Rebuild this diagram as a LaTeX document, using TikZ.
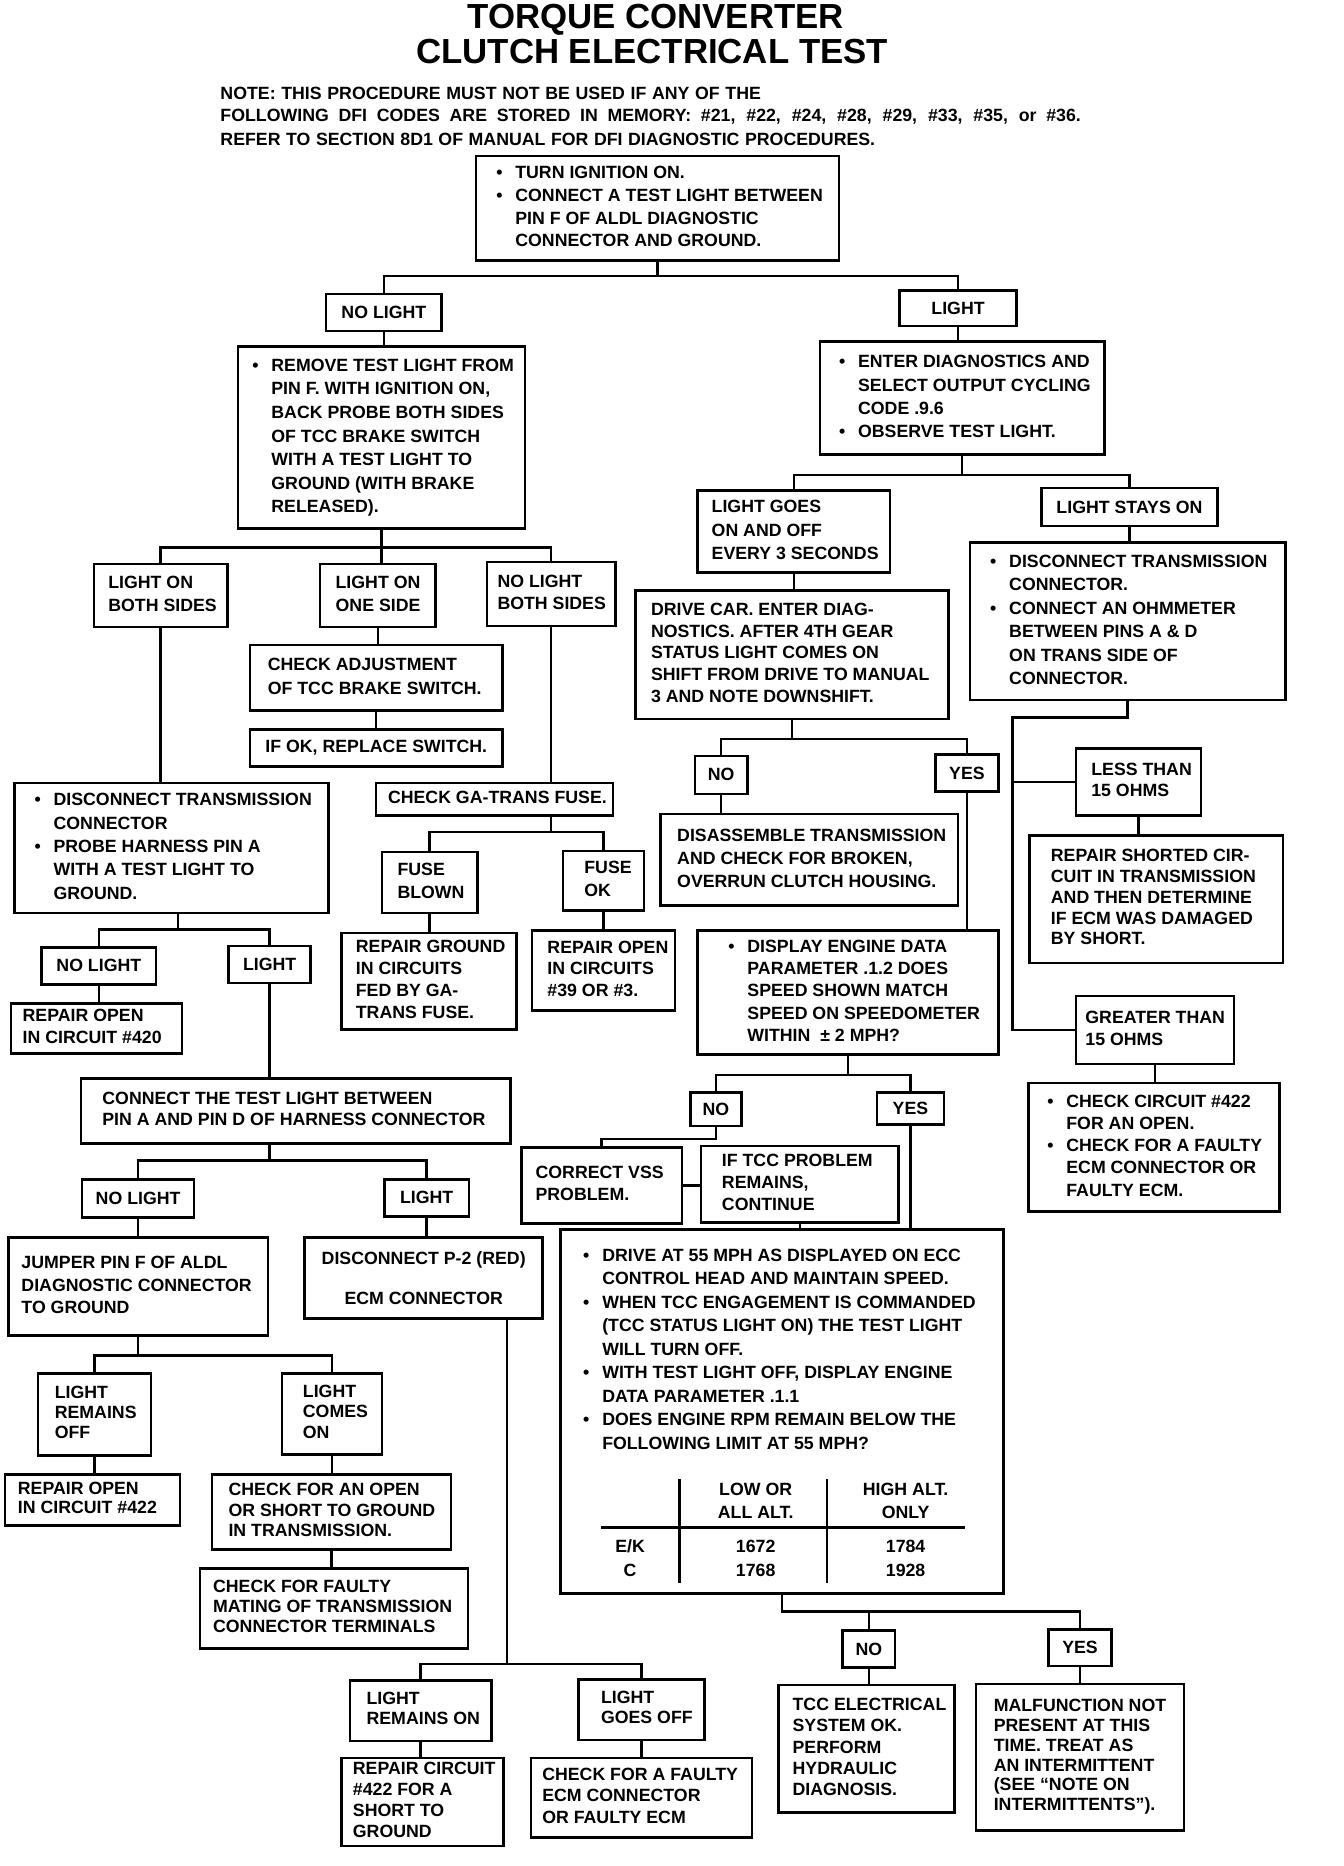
\documentclass[tikz,border=0pt]{standalone}
\usepackage{fontspec}
\setmainfont{Liberation Sans}
\tikzset{
  box/.style={draw, line width=1.5pt, inner sep=0pt, font=\fontsize{10.6}{13}\selectfont\bfseries},
  link/.style={line width=1.5pt},
  title/.style={font=\fontsize{20.8}{24}\selectfont\bfseries, inner sep=0pt, anchor=base},
  note/.style={font=\fontsize{10.6}{13}\selectfont\bfseries, inner sep=0pt, anchor=base west},
  cell/.style={font=\fontsize{10.6}{13}\selectfont\bfseries, inner sep=0pt}
}
\newcommand\bul{\llap{\makebox[0.4cm][l]{\textbullet}}}
% [line spacing]{name}{x1}{y1}{x2}{y2}{text indent}{lines}
\newcommand\flowbox[8][19.5]{%
  \pgfmathsetmacro\bw{(#5-#3)*0.025}%
  \pgfmathsetmacro\bh{(#6-#4)*0.025}%
  \pgfmathsetmacro\bp{#7*0.025}%
  \pgfmathsetmacro\bl{#1*0.7113}%
  \node[box, minimum width=\bw cm, minimum height=\bh cm, anchor=north west] (#2) at (#3,#4)
    {\fontsize{10.6}{\bl pt}\selectfont\makebox[\bw cm][l]{\hspace*{\bp cm}\begin{tabular}{@{}l@{}}#8\end{tabular}}};}
% {name}{x1}{y1}{x2}{y2}{text}
\newcommand\tagbox[6]{%
  \pgfmathsetmacro\bw{(#4-#2)*0.025}%
  \pgfmathsetmacro\bh{(#5-#3)*0.025}%
  \node[box, align=center, minimum width=\bw cm, minimum height=\bh cm, anchor=north west] (#1) at (#2,#3) {#6};}
\begin{document}
\begin{tikzpicture}[x=0.025cm, y=-0.025cm]
\useasboundingbox (0,0) rectangle (1129,1568);
% heading
\node[title] (title1) at (551,24) {TORQUE CONVERTER};
\node[title] (title2) at (548,53) {CLUTCH ELECTRICAL TEST};
\foreach \i/\y/\w/\lbl in {1/83.4/11.35/{NOTE: THIS PROCEDURE MUST NOT BE USED IF ANY OF THE},
    2/102.2/18.07/{FOLLOWING DFI CODES ARE STORED IN MEMORY: \#21, \#22, \#24, \#28, \#29, \#33, \#35, or \#36.},
    3/122.4/13.75/{REFER TO SECTION 8D1 OF MANUAL FOR DFI DIAGNOSTIC PROCEDURES.}}
  \node[note] (note\i) at (185,\y) {\makebox[\w cm][s]{\lbl}};
% first test
\flowbox[19]{start}{399}{130}{704}{218}{33}{\bul TURN IGNITION ON.\\ \bul CONNECT A TEST LIGHT BETWEEN\\ PIN F OF ALDL DIAGNOSTIC\\ CONNECTOR AND GROUND.}
\tagbox{nolight1}{273}{246}{370}{277}{NO LIGHT}
\tagbox{light1}{755}{243}{853}{273}{LIGHT}
% no light branch
\flowbox[19.8]{remove}{199}{290}{440}{443}{28}{\bul REMOVE TEST LIGHT FROM\\ PIN F. WITH IGNITION ON,\\ BACK PROBE BOTH SIDES\\ OF TCC BRAKE SWITCH\\ WITH A TEST LIGHT TO\\ GROUND (WITH BRAKE\\ RELEASED).}
\flowbox[19]{both}{78}{473}{190}{526}{12}{LIGHT ON\\ BOTH SIDES}
\flowbox[19]{one}{268}{473}{365}{526}{13}{LIGHT ON\\ ONE SIDE}
\flowbox[19]{none}{408}{471}{516}{525}{9}{NO LIGHT\\ BOTH SIDES}
\flowbox[20]{chkadj}{209}{541}{421}{596}{15}{CHECK ADJUSTMENT\\ OF TCC BRAKE SWITCH.}
\flowbox{ifok}{209}{612}{421}{643}{13}{IF OK, REPLACE SWITCH.}
\flowbox[19.6]{ldisc}{11}{657}{275}{766}{33}{\bul DISCONNECT TRANSMISSION\\ CONNECTOR\\ \bul PROBE HARNESS PIN A\\ WITH A TEST LIGHT TO\\ GROUND.}
\flowbox{gafuse}{315}{657}{514}{684}{10}{CHECK GA-TRANS FUSE.}
\flowbox{blown}{320}{715}{400}{766}{13}{FUSE\\ BLOWN}
\flowbox{fuseok}{472}{714}{540}{764}{18}{FUSE\\ OK}
\flowbox[18.6]{rground}{286}{783}{433}{864}{12}{REPAIR GROUND\\ IN CIRCUITS\\ FED BY GA-\\ TRANS FUSE.}
\flowbox[18.3]{ropen}{446}{781}{566}{848}{13}{REPAIR OPEN\\ IN CIRCUITS\\ \#39 OR \#3.}
\tagbox{nolight2}{34}{795}{130}{826}{NO LIGHT}
\tagbox{light2}{191}{794}{260}{825}{LIGHT}
\flowbox[18]{r420}{8}{842}{152}{884}{10}{REPAIR OPEN\\ IN CIRCUIT \#420}
\flowbox[18]{conn}{67}{905}{428}{960}{18}{CONNECT THE TEST LIGHT BETWEEN\\ PIN A AND PIN D OF HARNESS CONNECTOR}
\tagbox{nolight3}{68}{990}{162}{1022}{NO LIGHT}
\tagbox{light3}{322}{990}{393}{1021}{LIGHT}
\flowbox[19]{jumper}{6}{1039}{224}{1121}{11}{JUMPER PIN F OF ALDL\\ DIAGNOSTIC CONNECTOR\\ TO GROUND}
\tagbox{p2}{255}{1039}{455}{1107}{DISCONNECT P-2 (RED)\\[10.9pt]ECM CONNECTOR}
\flowbox[17]{remoff}{31}{1153}{126}{1222}{14}{LIGHT\\ REMAINS\\ OFF}
\flowbox[17]{comeson}{236}{1153}{320}{1221}{17.5}{LIGHT\\ COMES\\ ON}
\flowbox[16]{r422}{3}{1238}{150}{1281}{11}{REPAIR OPEN\\ IN CIRCUIT \#422}
\flowbox[17.3]{chkopen}{177}{1238}{378}{1301}{14}{CHECK FOR AN OPEN\\ OR SHORT TO GROUND\\ IN TRANSMISSION.}
\flowbox[16.8]{mating}{167}{1317}{392}{1384}{11}{CHECK FOR FAULTY\\ MATING OF TRANSMISSION\\ CONNECTOR TERMINALS}
\flowbox[17]{remon}{293}{1411}{412}{1462}{14}{LIGHT\\ REMAINS ON}
\flowbox[17]{goesoff}{485}{1410}{591}{1461}{19}{LIGHT\\ GOES OFF}
\flowbox[17.7]{rc422}{286}{1476}{422}{1550}{9.5}{REPAIR CIRCUIT\\ \#422 FOR A\\ SHORT TO\\ GROUND}
\flowbox[18]{faultyecm}{445}{1476}{631}{1543}{9.6}{CHECK FOR A FAULTY\\ ECM CONNECTOR\\ OR FAULTY ECM}
% light branch
\flowbox[19.5]{diag}{688}{286}{927}{381}{32}{\bul ENTER DIAGNOSTICS AND\\ SELECT OUTPUT CYCLING\\ CODE .9.6\\ \bul OBSERVE TEST LIGHT.}
\flowbox[19.5]{goes}{585}{411}{747}{480}{12}{LIGHT GOES\\ ON AND OFF\\ EVERY 3 SECONDS}
\tagbox{stays}{874}{409}{1022}{441}{LIGHT STAYS ON}
\flowbox[18.3]{drive}{533}{495}{796}{603}{13}{DRIVE CAR. ENTER DIAG-\\ NOSTICS. AFTER 4TH GEAR\\ STATUS LIGHT COMES ON\\ SHIFT FROM DRIVE TO MANUAL\\ 3 AND NOTE DOWNSHIFT.}
\tagbox{no1}{583}{634}{627}{666}{NO}
\tagbox{yes1}{785}{633}{838}{664}{YES}
\flowbox[19.5]{disasm}{554}{683}{804}{760}{14}{DISASSEMBLE TRANSMISSION\\ AND CHECK FOR BROKEN,\\ OVERRUN CLUTCH HOUSING.}
\flowbox[18.5]{display}{585}{781}{838}{885}{42}{\bul DISPLAY ENGINE DATA\\ PARAMETER .1.2 DOES\\ SPEED SHOWN MATCH\\ SPEED ON SPEEDOMETER\\ WITHIN \ ± 2 MPH?}
\tagbox{no2}{579}{917}{622}{945}{NO}
\tagbox{yes2}{736}{917}{792}{944}{YES}
\flowbox[18]{vss}{437}{963}{572}{1027}{12}{CORRECT VSS\\ PROBLEM.}
\flowbox[18.2]{iftcc}{588}{962}{754}{1026}{17.6}{IF TCC PROBLEM\\ REMAINS,\\ CONTINUE}
\node[box, minimum width=9.3cm, minimum height=7.65cm, anchor=north west] (drive55) at (470,1032) {};
\node[anchor=north west, inner sep=0pt, font=\fontsize{10.6}{14.05}\selectfont\bfseries] (drive55txt) at (505.8,1045.6)
  {\begin{tabular}{@{}l@{}}\bul DRIVE AT 55 MPH AS DISPLAYED ON ECC\\ CONTROL HEAD AND MAINTAIN SPEED.\\ \bul WHEN TCC ENGAGEMENT IS COMMANDED\\ (TCC STATUS LIGHT ON) THE TEST LIGHT\\ WILL TURN OFF.\\ \bul WITH TEST LIGHT OFF, DISPLAY ENGINE\\ DATA PARAMETER .1.1\\ \bul DOES ENGINE RPM REMAIN BELOW THE\\ FOLLOWING LIMIT AT 55 MPH?\end{tabular}};
% rpm table
\draw[link] (571,1243) -- (571,1330);
\draw[link] (695,1243) -- (695,1330);
\draw[link] (505,1283.6) -- (811,1283.6);
\foreach \n/\x/\y/\lbl in {lo1/635/1251.6/LOW OR, lo2/635/1271/ALL ALT., hi1/761/1251.6/HIGH ALT., hi2/761/1271/ONLY,
    ek/529.5/1299.4/{E/K}, c/529.5/1319.6/C, ek1/635/1299.4/1672, c1/635/1319.6/1768, ek2/761/1299.4/1784, c2/761/1319.6/1928}
  \node[cell] (tab\n) at (\x,\y) {\lbl};
\tagbox{no3}{707}{1369}{751}{1400}{NO}
\tagbox{yes3}{880}{1368}{933}{1399}{YES}
\flowbox[17.8]{tcc}{653}{1415}{801}{1522}{12}{TCC ELECTRICAL\\ SYSTEM OK.\\ PERFORM\\ HYDRAULIC\\ DIAGNOSIS.}
\flowbox[16.6]{malf}{819}{1414}{994}{1537}{15}{MALFUNCTION NOT\\ PRESENT AT THIS\\ TIME. TREAT AS\\ AN INTERMITTENT\\ (SEE “NOTE ON\\ INTERMITTENTS”).}
% light stays on
\flowbox[19.8]{rdisc}{814}{455}{1079}{587}{33}{\bul DISCONNECT TRANSMISSION\\ CONNECTOR.\\ \bul CONNECT AN OHMMETER\\ BETWEEN PINS A \& D\\ ON TRANS SIDE OF\\ CONNECTOR.}
\flowbox[18]{less}{903}{628}{1008}{684}{13}{LESS THAN\\ 15 OHMS}
\flowbox[17.5]{shorted}{864}{701}{1077}{808}{18}{REPAIR SHORTED CIR-\\ CUIT IN TRANSMISSION\\ AND THEN DETERMINE\\ IF ECM WAS DAMAGED\\ BY SHORT.}
\flowbox[19]{greater}{903}{836}{1036}{893}{8}{GREATER THAN\\ 15 OHMS}
\flowbox[18.6]{check422}{863}{909}{1074}{1017}{32}{\bul CHECK CIRCUIT \#422\\ FOR AN OPEN.\\ \bul CHECK FOR A FAULTY\\ ECM CONNECTOR OR\\ FAULTY ECM.}
% connectors
\draw[link] (start.south) -- ++(0,12) -| (nolight1.north);
\draw[link] (start.south) -- ++(0,12) -| (light1.north);
\draw[link] (nolight1.south) -- (nolight1.south |- remove.north);
\draw[link] (light1.south) -- (light1.south |- diag.north);
\draw[link] (remove.south) -- ++(0,15) -| (both.north);
\draw[link] (remove.south) -- ++(0,15) -| (none.north);
\draw[link] (remove.south) -- (remove.south |- one.north);
\draw[link] (one.south) -- (one.south |- chkadj.north);
\draw[link] (chkadj.south) -- (chkadj.south |- ifok.north);
\draw[link] (both.south) -- (both.south |- ldisc.north);
\draw[link] (none.south) -- (none.south |- gafuse.north);
\draw[link] (gafuse.south -| none.south) -- ++(0,13) -| (blown.north);
\draw[link] (gafuse.south -| none.south) -- ++(0,13) -| (fuseok.north);
\draw[link] (blown.south) -- (blown.south |- rground.north);
\draw[link] (fuseok.south) -- (fuseok.south |- ropen.north);
\draw[link] ([xshift=0.14cm]ldisc.south) -- ++(0,13) -| (nolight2.north);
\draw[link] ([xshift=0.14cm]ldisc.south) -- ++(0,13) -| (light2.north);
\draw[link] (nolight2.south) -- (nolight2.south |- r420.north);
\draw[link] (light2.south) -- (light2.south |- conn.north);
\draw[link] (conn.south -| light2.south) -- ++(0,13) -| (nolight3.north);
\draw[link] (conn.south -| light2.south) -- ++(0,13) -| (light3.north);
\draw[link] (nolight3.south) -- (nolight3.south |- jumper.north);
\draw[link] (light3.south) -- (light3.south |- p2.north);
\draw[link] (jumper.south) -- ++(0,16) -| (remoff.north);
\draw[link] (jumper.south) -- ++(0,16) -| (comeson.north);
\draw[link] (remoff.south) -- (remoff.south |- r422.north);
\draw[link] (comeson.south) -- (comeson.south |- chkopen.north);
\draw[link] (chkopen.south) -- (chkopen.south |- mating.north);
\draw[link] ([xshift=-0.775cm]p2.south east) -- ++(0,289) -| (remon.north);
\draw[link] ([xshift=-0.775cm]p2.south east) -- ++(0,289) -| (goesoff.north);
\draw[link] (remon.south) -- (remon.south |- rc422.north);
\draw[link] (goesoff.south) -- (goesoff.south |- faultyecm.north);
\draw[link] (diag.south) -- ++(0,16) -| (goes.north);
\draw[link] (diag.south) -- ++(0,16) -| (stays.north);
\draw[link] (goes.south) -- (goes.south |- drive.north);
\draw[link] (drive.south) -- ++(0,16) -| (no1.north);
\draw[link] (drive.south) -- ++(0,16) -| (yes1.north);
\draw[link] (no1.south) -- (no1.south |- disasm.north);
\draw[link] (yes1.south) -- (yes1.south |- display.north);
\draw[link] (display.south) -- ++(0,16) -| (no2.north);
\draw[link] (display.south) -- ++(0,16) -| (yes2.north);
\draw[link] (no2.south) -- ++(0,10) -| (vss.north);
\draw[link] (vss.east) -- (vss.east -| iftcc.west);
\draw[link] (yes2.south) -- (yes2.south |- drive55.north);
\draw[link] (iftcc.south) -- (iftcc.south |- drive55.north);
\draw[link] (drive55.south) -- ++(0,14) -| (no3.north);
\draw[link] (drive55.south) -- ++(0,14) -| (yes3.north);
\draw[link] (no3.south) -- (no3.south |- tcc.north);
\draw[link] (yes3.south) -- (yes3.south |- malf.north);
\draw[link] (stays.south) -- (stays.south |- rdisc.north);
\coordinate (ohmbus) at (851,603);
\draw[link] (rdisc.south) |- (ohmbus) |- (greater.west);
\draw[link] (ohmbus |- less.west) -- (less.west);
\draw[link] (less.south) -- (less.south |- shorted.north);
\draw[link] (greater.south) -- (greater.south |- check422.north);
\end{tikzpicture}
\end{document}
